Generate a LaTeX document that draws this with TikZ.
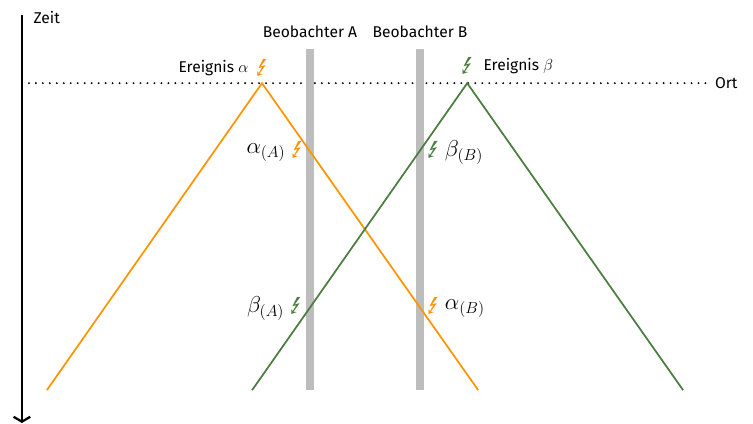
\documentclass[tikz,border=0pt]{standalone}
\usepackage{amsmath}
\usepackage{fontspec}
\usepackage{xcolor}
\usepackage{marvosym}
\setsansfont{Fira Sans}
\usetikzlibrary{arrows.meta,positioning}
\definecolor{inkorange}{HTML}{FF9400}
\definecolor{inkgreen}{HTML}{4A7D3F}
\definecolor{inkgray}{HTML}{BDBDBD}

\begin{document}
\begin{tikzpicture}[
  every node/.style={font=\sffamily\fontsize{11.75}{14}\selectfont, inner sep=0pt},
  axis/.style={-{Straight Barb[length=1.3mm,width=4.4mm]}, line width=1.7pt, color=black},
  place/.style={line cap=round, dash pattern=on 0pt off 5.25pt, line width=1.6pt, color=black},
  observer/.style={line width=1.9mm, color=inkgray},
  ray/.style={line width=1.3pt},
  mathlabel/.style={font=\fontsize{18}{21}\selectfont, yshift=-2pt},
  bolt/.style={font=\fontsize{18}{20}\selectfont}]
\useasboundingbox (0,0) rectangle (19.92,-11.19);
% axes
\coordinate (ttop) at (0.58,-0.40);
\coordinate (tend) at (0.58,-11.19);
\coordinate (xleft) at (0.58,-2.20);
\coordinate (xright) at (18.71,-2.20);
\node[anchor=west] (zeit) at (0.88,-0.45) {Zeit};
\node[right=2mm of xright] (ort) {Ort};
\draw[axis] (ttop) -- (tend);
\draw[place] (xleft) -- (xright);
% observers
\node (beoa) at (8.20,-0.85) {Beobachter A};
\node (beob) at (11.11,-0.85) {Beobachter B};
\coordinate (beoatop) at (8.20,-1.30);
\coordinate (beobtop) at (11.11,-1.30);
\coordinate (beoaend) at (8.20,-10.32);
\coordinate (beobend) at (11.11,-10.32);
\draw[observer] (beoatop) -- (beoaend);
\draw[observer] (beobtop) -- (beobend);
% events
\coordinate (alpha) at (6.93,-2.20);
\coordinate (beta) at (12.36,-2.20);
\coordinate (alphal) at (1.24,-10.32);
\coordinate (alphar) at (12.65,-10.32);
\coordinate (betal) at (6.67,-10.32);
\coordinate (betar) at (18.07,-10.32);
\draw[ray, inkorange] (alphal) -- (alpha) -- (alphar);
\draw[ray, inkgreen] (betal) -- (beta) -- (betar);
\node[bolt, text=inkorange] (boltalpha) at (6.93,-1.80) {\Lightning};
\node[bolt, text=inkgreen] (boltbeta) at (12.36,-1.75) {\Lightning};
\node[left=2mm of boltalpha] (ereignisa) {Ereignis $\alpha$};
\node[right=2.7mm of boltbeta] (ereignisb) {Ereignis $\beta$};
% signals at the observers
\node[bolt, text=inkorange] (boltaa) at (7.86,-3.96) {\Lightning};
\node[bolt, text=inkgreen] (boltbb) at (11.46,-3.96) {\Lightning};
\node[bolt, text=inkgreen] (boltba) at (7.83,-8.09) {\Lightning};
\node[bolt, text=inkorange] (boltab) at (11.46,-8.09) {\Lightning};
\node[mathlabel, left=1.5mm of boltaa] (labaa) {$\alpha_{(A)}$};
\node[mathlabel, right=1.5mm of boltbb] (labbb) {$\beta_{(B)}$};
\node[mathlabel, left=1.5mm of boltba] (labba) {$\beta_{(A)}$};
\node[mathlabel, right=1.5mm of boltab] (labab) {$\alpha_{(B)}$};
\end{tikzpicture}
\end{document}
